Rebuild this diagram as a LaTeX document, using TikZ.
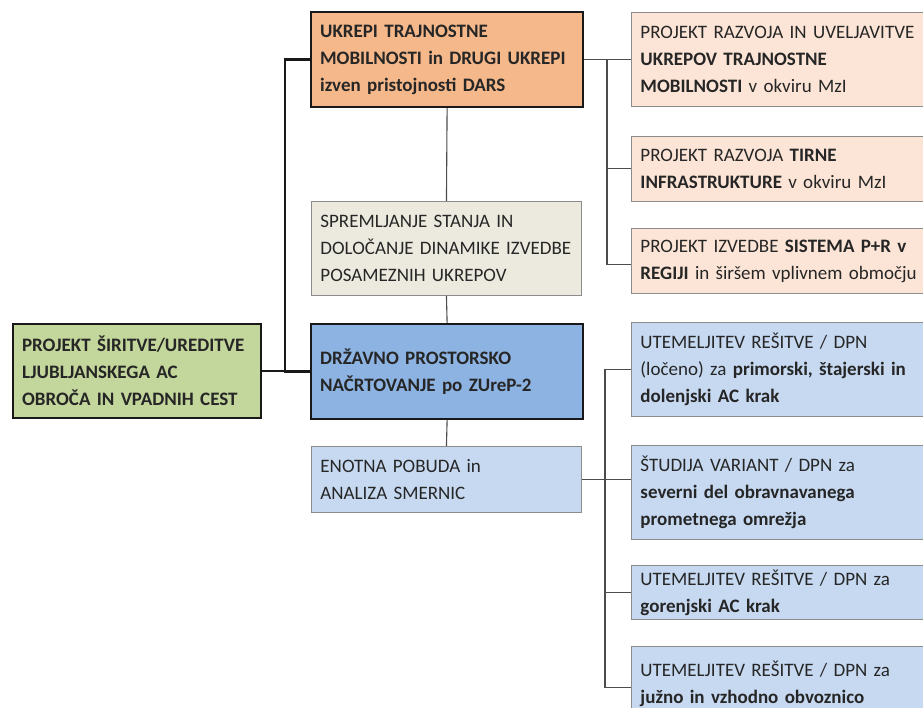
\documentclass[tikz,border=0pt]{standalone}
\usepackage{fontspec}
\setmainfont{Carlito}
\usetikzlibrary{positioning}
\definecolor{zelena}{HTML}{C3D69B}
\definecolor{oranzna}{HTML}{F5B88B}
\definecolor{svetlooranzna}{HTML}{FCE5D6}
\definecolor{bez}{HTML}{ECEADF}
\definecolor{modra}{HTML}{8DB3E2}
\definecolor{svetlomodra}{HTML}{C6D9F1}
\newcommand\kosfont{\fontsize{19}{27}\selectfont}
\hyphenpenalty=10000
\exhyphenpenalty=10000
\tikzset{x=1pt,y=-1pt,
        kos/.style={draw=black!45,line width=0.9pt,anchor=north west,align=left,
                    inner xsep=9pt,inner ysep=0pt,text=black!85,font=\kosfont},
        glavni/.style={kos,draw=black!90,line width=2.2pt},
        debela/.style={line width=2.6pt,black!90},
        tanka/.style={line width=1.1pt,black!70}
        }
\begin{document}
\begin{tikzpicture}
    % okvir slike
    \clip (0,0) rectangle (923,708);
    % levi stolpec
    \node[glavni,fill=zelena,minimum width=248,minimum height=94,text width=230] (projekt) at (12,323)
        {\textbf{PROJEKT ŠIRITVE/UREDITVE}\\\textbf{LJUBLJANSKEGA AC}\\\textbf{OBROČA IN VPADNIH CEST}};
    % srednji stolpec
    \node[glavni,fill=oranzna,minimum width=272,minimum height=95,text width=254] (ukrepi) at (310,11)
        {\textbf{UKREPI TRAJNOSTNE}\\\textbf{MOBILNOSTI in DRUGI UKREPI}\\\textbf{izven pristojnosti DARS}};
    \node[kos,fill=bez,minimum width=270,minimum height=94,text width=252] (spremljanje) at (311,201)
        {SPREMLJANJE STANJA IN\\DOLOČANJE DINAMIKE IZVEDBE\\POSAMEZNIH UKREPOV};
    \node[glavni,fill=modra,minimum width=272,minimum height=95,text width=254] (dpn) at (310,323)
        {\textbf{DRŽAVNO PROSTORSKO}\\\textbf{NAČRTOVANJE po ZUreP-2}};
    \node[kos,fill=svetlomodra,minimum width=270,minimum height=66,text width=252] (enotna) at (311,446)
        {ENOTNA POBUDA in\\ANALIZA SMERNIC};
    % desni stolpec, zgoraj
    \node[kos,fill=svetlooranzna,minimum width=300,minimum height=94,text width=282] (razvoj) at (631,12)
        {PROJEKT RAZVOJA IN UVELJAVITVE\\\textbf{UKREPOV TRAJNOSTNE}\\\textbf{MOBILNOSTI} v okviru MzI};
    \node[kos,fill=svetlooranzna,minimum width=300,minimum height=65,text width=282] (tirna) at (631,136)
        {PROJEKT RAZVOJA \textbf{TIRNE}\\\textbf{INFRASTRUKTURE} v okviru MzI};
    \node[kos,fill=svetlooranzna,minimum width=300,minimum height=65,text width=282] (pr) at (631,228)
        {PROJEKT IZVEDBE \textbf{SISTEMA P+R v}\\\textbf{REGIJI} in širšem vplivnem območju};
    % desni stolpec, spodaj
    \node[kos,fill=svetlomodra,minimum width=300,minimum height=94,text width=282] (krak) at (631,322)
        {UTEMELJITEV REŠITVE / DPN\\(ločeno) za \textbf{primorski, štajerski in}\\\textbf{dolenjski AC krak}};
    \node[kos,fill=svetlomodra,minimum width=300,minimum height=94,text width=282] (studija) at (631,445)
        {ŠTUDIJA VARIANT / DPN za\\\textbf{severni del obravnavanega}\\\textbf{prometnega omrežja}};
    \node[kos,fill=svetlomodra,minimum width=300,minimum height=54,text width=282] (gorenjski) at (631,565)
        {UTEMELJITEV REŠITVE / DPN za\\\textbf{gorenjski AC krak}};
    \node[kos,fill=svetlomodra,minimum width=300,minimum height=74,text width=282] (obvoznica) at (631,646)
        {UTEMELJITEV REŠITVE / DPN za\\\textbf{južno in vzhodno obvoznico}};

    % navpicne osi povezav
    \coordinate (os1) at (285,0);
    \coordinate (os2) at (607,0);
    \coordinate (os3) at (605,0);

    % debele povezave od projekta
    \draw[debela] (projekt.east) -- (projekt.east -| os1);
    \draw[debela] (ukrepi.west) -| (os1 |- dpn.west) -- (dpn.west);
    % srednji stolpec
    \draw[tanka] (ukrepi.south) -- (spremljanje.north);
    \draw[tanka] (spremljanje.south) -- (dpn.north);
    \draw[tanka] (dpn.south) -- (enotna.north);
    % ukrepi -> desno
    \draw[tanka] (ukrepi.east) -- (ukrepi.east -| razvoj.west);
    \draw[tanka] (ukrepi.east -| os2) |- ([yshift=-4]pr.west);
    \draw[tanka] (tirna.west) -- (tirna.west -| os2);
    % enotna -> desno
    \draw[tanka] (enotna.east) -- (enotna.east -| studija.west);
    \draw[tanka] (krak.west) -| ([yshift=-4]obvoznica.west -| os3) -- ([yshift=-4]obvoznica.west);
    \draw[tanka] (gorenjski.west) -- (gorenjski.west -| os3);
\end{tikzpicture}
\end{document}
